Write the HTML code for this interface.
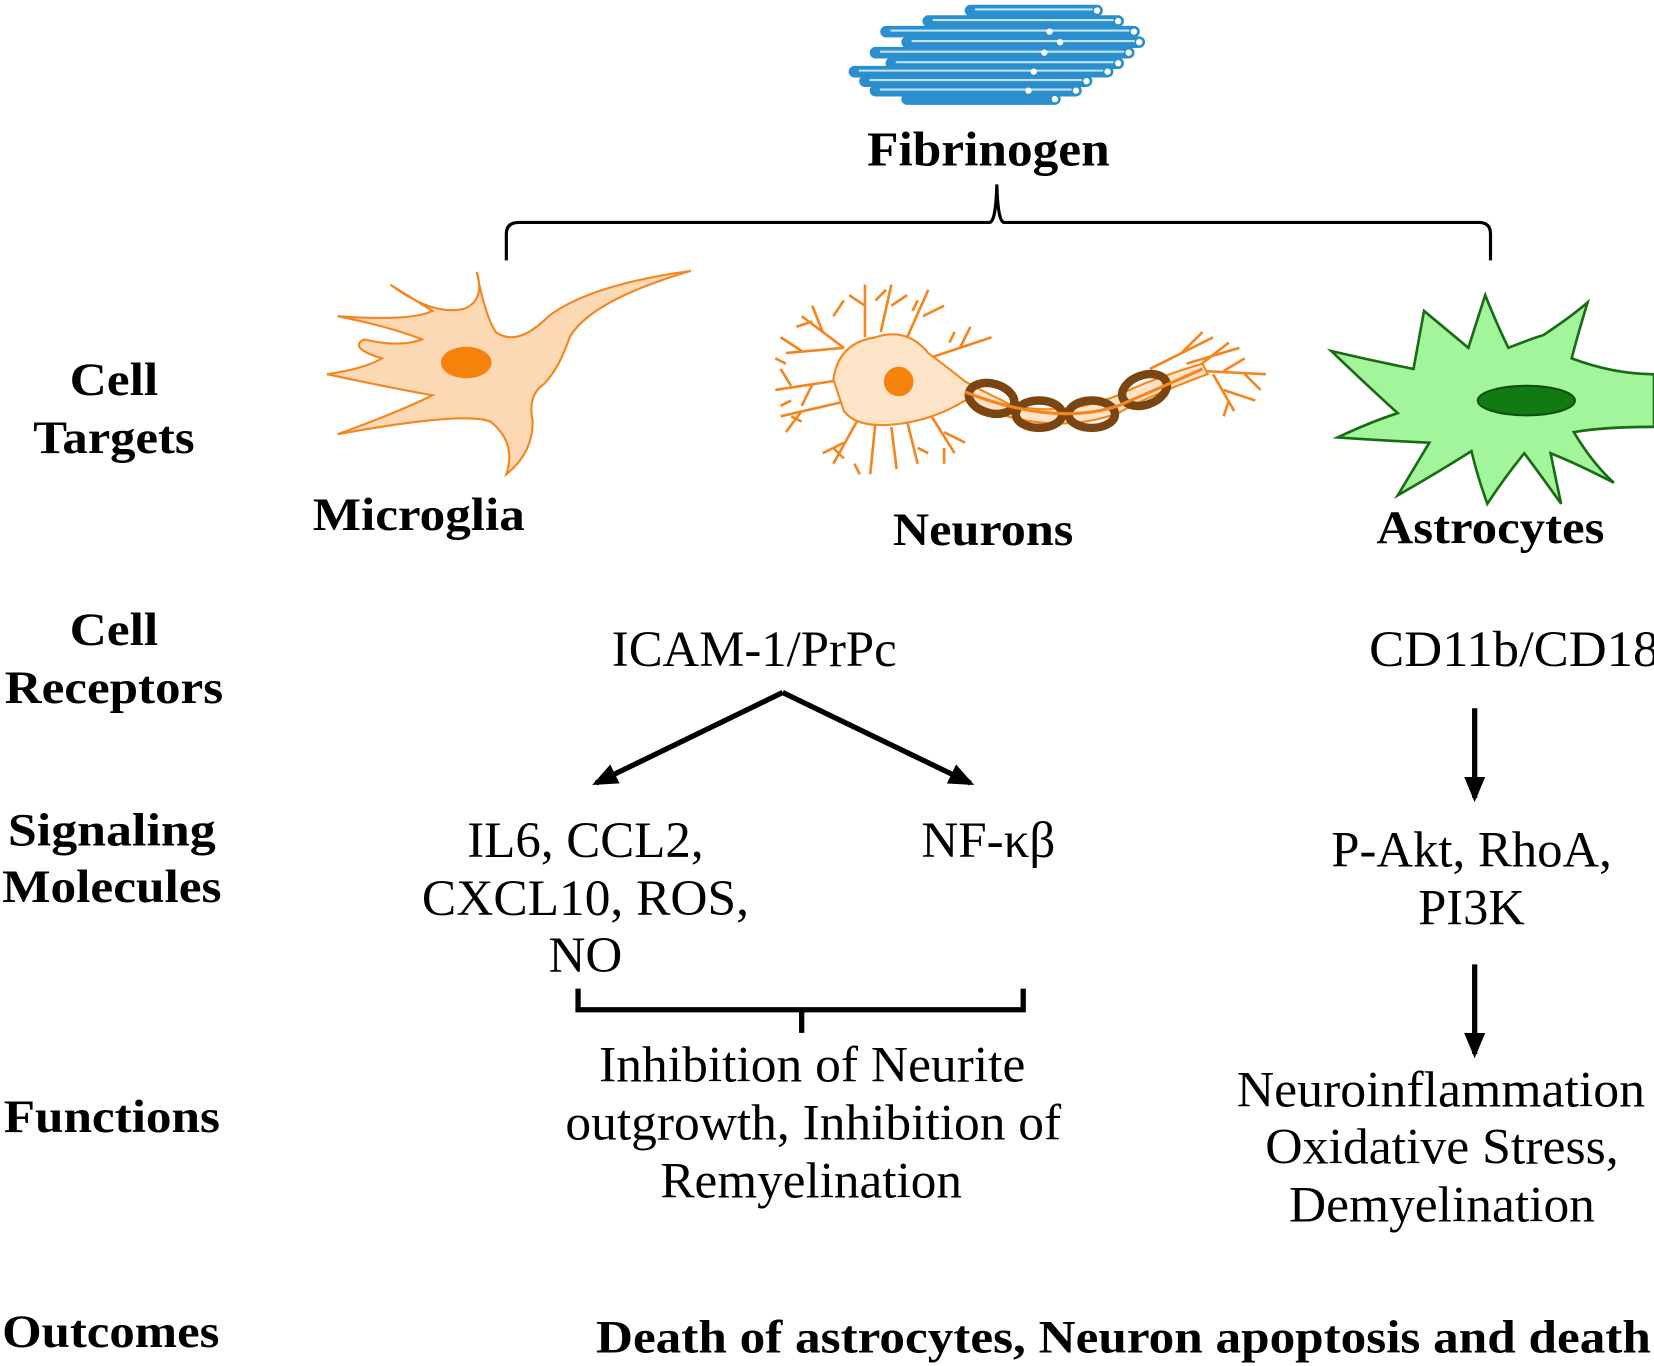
<!DOCTYPE html>
<html><head><meta charset="utf-8"><style>html,body{margin:0;padding:0;background:#fff}svg{display:block}text{font-family:"Liberation Serif","Times New Roman",serif}</style></head>
<body>
<svg width="1654" height="1366" viewBox="0 0 1568 1296" preserveAspectRatio="none" xmlns="http://www.w3.org/2000/svg" style="font-family:'Liberation Serif',serif">
<defs>
<marker id="ah2" markerWidth="24" markerHeight="20" refX="20" refY="10" orient="auto" markerUnits="userSpaceOnUse"><path d="M0,0 L24,10 L0,20 z" fill="#000"/></marker>
</defs>
<!-- Fibrinogen bundle -->
<g stroke-linecap="round">
<g stroke="#2a8fcc" stroke-width="11">
<line x1="920" y1="10" x2="1040" y2="10"/><line x1="880" y1="20" x2="1060" y2="20"/><line x1="840" y1="30" x2="1075" y2="30"/>
<line x1="860" y1="40" x2="1080" y2="40"/><line x1="830" y1="50" x2="1070" y2="50"/><line x1="845" y1="60" x2="1060" y2="60"/>
<line x1="810" y1="68" x2="1050" y2="68"/><line x1="820" y1="77" x2="1030" y2="77"/><line x1="830" y1="86" x2="1020" y2="86"/>
<line x1="860" y1="94" x2="1000" y2="94"/>
</g>
<g stroke="#bfe4f7" stroke-width="2">
<line x1="925" y1="9" x2="1035" y2="9"/><line x1="885" y1="19" x2="1055" y2="19"/><line x1="845" y1="29" x2="1070" y2="29"/>
<line x1="865" y1="39" x2="1075" y2="39"/><line x1="835" y1="49" x2="1065" y2="49"/><line x1="850" y1="59" x2="1055" y2="59"/>
<line x1="815" y1="67" x2="1045" y2="67"/><line x1="825" y1="76" x2="1025" y2="76"/><line x1="835" y1="85" x2="1015" y2="85"/>
</g>
<g fill="#fff">
<circle cx="1040" cy="10" r="3"/><circle cx="1060" cy="20" r="3"/><circle cx="1075" cy="30" r="3"/><circle cx="1080" cy="40" r="3"/>
<circle cx="1070" cy="50" r="3"/><circle cx="1060" cy="60" r="3"/><circle cx="1050" cy="68" r="3"/><circle cx="1030" cy="77" r="3"/>
<circle cx="1020" cy="86" r="3"/><circle cx="1000" cy="94" r="3"/><circle cx="990" cy="50" r="3"/><circle cx="980" cy="68" r="3"/>
<circle cx="1005" cy="40" r="3"/><circle cx="975" cy="86" r="3"/><circle cx="995" cy="30" r="3"/>
</g>
</g>
<text x="937" y="157" font-size="46" font-weight="bold" text-anchor="middle" textLength="230" lengthAdjust="spacingAndGlyphs">Fibrinogen</text>
<!-- top brace -->
<path d="M480,247 L480,222 Q480,211 492,211 L938,211 Q944,211 945,175 Q946,211 952,211 L1402,211 Q1413,211 1413,222 L1413,247" fill="none" stroke="#000" stroke-width="3"/>
<!-- Microglia -->
<path d="M370,270 Q410,300 440,293 Q460,285 452,258 Q460,300 470,315 Q490,330 520,300 Q560,270 655,257 Q560,285 540,320 Q530,350 515,365 Q500,375 505,400 Q505,430 480,450 Q490,420 465,400 Q440,390 320,412 Q380,390 410,375 Q380,370 310,355 Q345,350 362,340 Q330,330 345,322 Q380,330 400,322 Q370,310 320,300 Q390,305 410,295 Z" fill="#fdd8b5" stroke="#f5861f" stroke-width="2"/>
<ellipse cx="442" cy="344" rx="24" ry="15" fill="#f5820a"/>
<text x="397" y="503" font-size="44" font-weight="bold" text-anchor="middle" textLength="201" lengthAdjust="spacingAndGlyphs">Microglia</text>
<!-- Neuron -->
<g stroke="#f5861f" stroke-width="2.5" fill="none">
<path d="M800,330 L760,300 M780,315 L770,290 M800,330 L745,335 M760,333 L740,320 M805,380 L740,395 M760,390 L745,410 M815,395 L790,440 M800,420 L780,430 M830,400 L825,450 M845,405 L850,445 M860,400 L870,440 M880,390 L905,430 M895,410 L915,420 M820,320 L820,270 M820,290 L805,280 M835,315 L845,270 M845,290 L860,280 M860,320 L880,275 M875,300 L895,290 M880,340 L940,320 M910,330 L920,310 M800,360 L735,370 M750,366 L740,350 M770,365 L760,385"/>
<path d="M770,305 L755,310 M790,300 L800,285 M830,285 L840,275 M865,295 L870,285 M900,325 L905,315 M760,400 L750,395 M790,425 L800,435 M810,440 L815,450 M870,425 L880,430 M895,425 L895,440 M745,345 L735,340 M750,380 L740,385"/>
<path d="M1090,350 L1150,320 M1120,335 L1140,315 M1125,345 L1175,330 M1140,352 L1200,355 M1160,352 L1180,340 M1150,355 L1170,390 M1160,370 L1190,380 M1120,360 L1165,325 M1180,355 L1195,370 M1165,380 L1160,395"/>
</g>
<path d="M790,360 Q795,325 830,320 Q860,310 880,335 Q900,350 915,362 L930,370 L960,385 Q1010,395 1060,375 Q1090,360 1140,345 L1145,355 Q1090,375 1060,392 Q1010,410 955,395 L915,380 Q890,395 865,400 Q815,410 800,390 Z" fill="#fde3c8" stroke="#f5861f" stroke-width="2"/>
<g fill="none" stroke="#7a4510" stroke-width="8">
<ellipse cx="940" cy="378" rx="22" ry="14" transform="rotate(15 940 378)"/>
<ellipse cx="985" cy="393" rx="22" ry="13"/>
<ellipse cx="1035" cy="393" rx="22" ry="13"/>
<ellipse cx="1085" cy="370" rx="22" ry="14" transform="rotate(-20 1085 370)"/>
</g>
<path d="M915,372 Q1000,405 1060,385 Q1100,368 1140,350" fill="none" stroke="#f5861f" stroke-width="3"/>
<circle cx="852" cy="362" r="14" fill="#f5820a"/>
<text x="932" y="517" font-size="44" font-weight="bold" text-anchor="middle" textLength="171" lengthAdjust="spacingAndGlyphs">Neurons</text>
<!-- Astrocyte -->
<path d="M1350,295 Q1380,320 1392,330 Q1400,305 1408,280 Q1420,310 1430,330 Q1450,322 1463,318 Q1490,300 1505,287 Q1495,320 1490,340 Q1530,355 1568,355 L1568,405 Q1520,405 1492,410 Q1510,440 1530,458 Q1495,440 1470,430 Q1475,455 1480,478 Q1460,450 1445,430 Q1425,455 1410,478 Q1400,450 1395,428 Q1360,450 1325,470 Q1340,445 1355,420 Q1310,418 1268,415 Q1300,400 1325,392 Q1290,360 1262,333 Q1300,342 1340,350 Z" fill="#a3f59b" stroke="#1a6b15" stroke-width="2.5"/>
<ellipse cx="1447" cy="380" rx="46" ry="14" fill="#117a12" stroke="#0d4f0d" stroke-width="2"/>
<text x="1413" y="515" font-size="44" font-weight="bold" text-anchor="middle" textLength="216" lengthAdjust="spacingAndGlyphs">Astrocytes</text>
<!-- left labels -->
<g font-size="44" font-weight="bold" text-anchor="middle">
<text x="108" y="375" textLength="84" lengthAdjust="spacingAndGlyphs">Cell</text>
<text x="108" y="430" textLength="153" lengthAdjust="spacingAndGlyphs">Targets</text>
<text x="108" y="612" textLength="84" lengthAdjust="spacingAndGlyphs">Cell</text>
<text x="108" y="667" textLength="207" lengthAdjust="spacingAndGlyphs">Receptors</text>
<text x="106" y="802" textLength="197" lengthAdjust="spacingAndGlyphs">Signaling</text>
<text x="106" y="856" textLength="208" lengthAdjust="spacingAndGlyphs">Molecules</text>
<text x="106" y="1074" textLength="205" lengthAdjust="spacingAndGlyphs">Functions</text>
<text x="105" y="1278" textLength="206" lengthAdjust="spacingAndGlyphs">Outcomes</text>
<text x="1065" y="1283" textLength="1000" lengthAdjust="spacingAndGlyphs">Death of astrocytes, Neuron apoptosis and death</text>
</g>
<!-- regular text -->
<g font-size="48" text-anchor="middle">
<text x="715" y="632" textLength="270" lengthAdjust="spacingAndGlyphs">ICAM-1/PrPc</text>
<text x="1298" y="632" text-anchor="start" textLength="275" lengthAdjust="spacingAndGlyphs">CD11b/CD18</text>
<text x="555" y="813" textLength="224" lengthAdjust="spacingAndGlyphs">IL6, CCL2,</text>
<text x="555" y="868" textLength="310" lengthAdjust="spacingAndGlyphs">CXCL10, ROS,</text>
<text x="555" y="922" textLength="70" lengthAdjust="spacingAndGlyphs">NO</text>
<text x="937" y="813" textLength="127" lengthAdjust="spacingAndGlyphs">NF-κβ</text>
<text x="1395" y="822" textLength="266" lengthAdjust="spacingAndGlyphs">P-Akt, RhoA,</text>
<text x="1395" y="877" textLength="101" lengthAdjust="spacingAndGlyphs">PI3K</text>
<text x="770" y="1026" textLength="404" lengthAdjust="spacingAndGlyphs">Inhibition of Neurite</text>
<text x="771" y="1081" textLength="470" lengthAdjust="spacingAndGlyphs">outgrowth, Inhibition of</text>
<text x="769" y="1136" textLength="286" lengthAdjust="spacingAndGlyphs">Remyelination</text>
<text x="1366" y="1050" textLength="387" lengthAdjust="spacingAndGlyphs">Neuroinflammation</text>
<text x="1367" y="1104" textLength="335" lengthAdjust="spacingAndGlyphs">Oxidative Stress,</text>
<text x="1367" y="1159" textLength="290" lengthAdjust="spacingAndGlyphs">Demyelination</text>
</g>
<!-- arrows -->
<g stroke="#000" stroke-width="5" fill="none">
<line x1="742" y1="657" x2="565" y2="743" marker-end="url(#ah2)"/>
<line x1="742" y1="657" x2="920" y2="743" marker-end="url(#ah2)"/>
<line x1="1398" y1="672" x2="1398" y2="757" marker-end="url(#ah2)"/>
<line x1="1398" y1="915" x2="1398" y2="1000" marker-end="url(#ah2)"/>
<path d="M548,938 L548,958 L970,958 L970,938 M760,958 L760,980"/>
</g>
</svg>
</body></html>
